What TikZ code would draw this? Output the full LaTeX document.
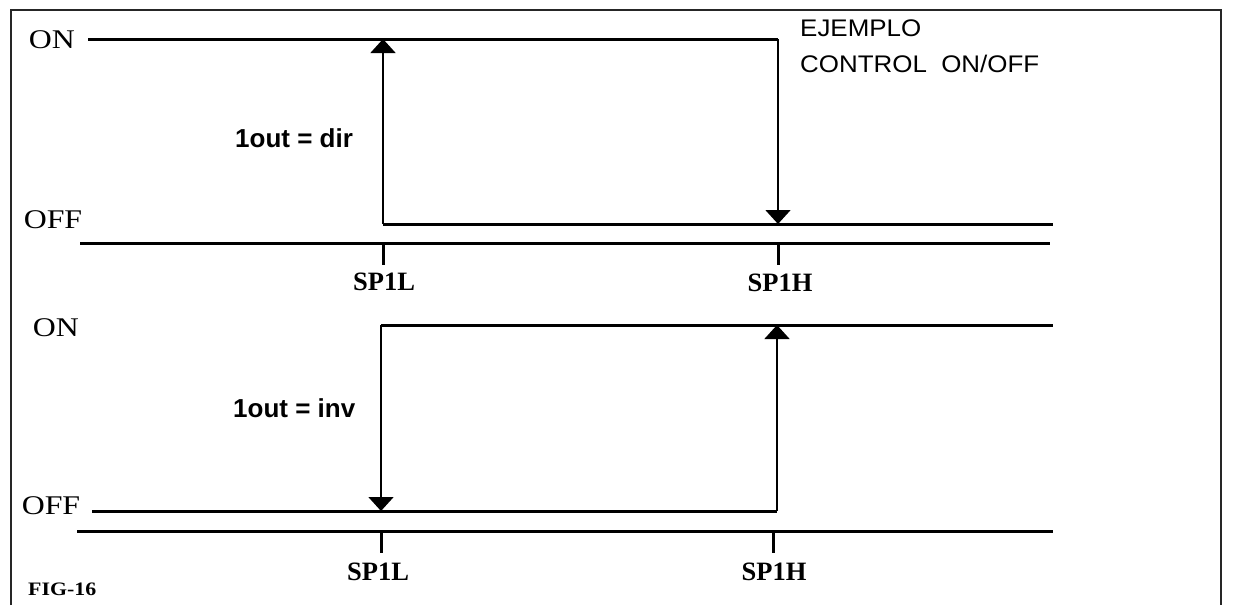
\documentclass[tikz,border=0pt]{standalone}
\usepackage{fontspec}
\setmainfont{Liberation Serif}
\newfontfamily\lvlfont{Liberation Serif}[FakeStretch=1.18]
\newfontfamily\spfont{Liberation Serif}[FakeStretch=1.0]
\newfontfamily\figfont{Liberation Serif}[FakeStretch=1.15]
\newfontfamily\sansfont{Liberation Sans}
\newfontfamily\titlefont{Liberation Sans}[FakeStretch=1.08]
\usetikzlibrary{arrows.meta}
\tikzset{
  level/.style={line width=3pt, line cap=butt},
  axisline/.style={line width=3pt},
  tickline/.style={line width=3pt},
  trans/.style={line width=1.7pt, -{Triangle[width=25pt,length=14pt]}},
  lvllabel/.style={font=\lvlfont\fontsize{27}{27}\selectfont, inner sep=0pt},
  splabel/.style={font=\spfont\bfseries\fontsize{26.5}{26.5}\selectfont, inner sep=0pt},
  modelabel/.style={font=\sansfont\bfseries\fontsize{26}{26}\selectfont, inner sep=0pt, anchor=west},
  titlelabel/.style={font=\titlefont\fontsize{24}{24}\selectfont, inner sep=0pt, anchor=west},
}
\begin{document}
\begin{tikzpicture}[x=1pt,y=-1pt]
\useasboundingbox (0,0) rectangle (1257,605);
\fill[white] (0,0) rectangle (1257,605);
% frame
\draw[line width=2pt, black!85] (11,605) -- (11,10) -- (1221,10) -- (1221,605);

% ===== top diagram =====
\node[lvllabel] (on1) at (52,40) {ON};
\node[lvllabel] (off1) at (53,220) {OFF};
\coordinate (on1s) at (88,39);
\coordinate (on1e) at (778,39);
\coordinate (sw1h) at (778,224);
\coordinate (sw1l) at (383,224);
\coordinate (sw1lt) at (383,39);
\coordinate (off1e) at (1053,224);
\draw[level] (on1s) -- (on1e);
\draw[level] (sw1l) -- (off1e);
\draw[trans] (on1e) -- (sw1h);
\draw[trans] (sw1l) -- (sw1lt);
\coordinate (ax1s) at (80,243);
\coordinate (ax1e) at (1050,243);
\draw[axisline] (ax1s) -- (ax1e);
\coordinate (t1l) at (383,243);
\coordinate (t1h) at (778,243);
\draw[tickline] (t1l) -- ++(0,22);
\draw[tickline] (t1h) -- ++(0,22);
\node[splabel] (sp1l1) at (384,282) {SP1L};
\node[splabel] (sp1h1) at (780,283) {SP1H};
\node[modelabel] (dir) at (235,138) {1out = dir};
\node[titlelabel] (t1) at (800,28) {EJEMPLO};
\node[titlelabel] (t2) at (800,64) {CONTROL\ \ ON/OFF};

% ===== bottom diagram =====
\node[lvllabel] (on2) at (56,328) {ON};
\node[lvllabel] (off2) at (51,506) {OFF};
\coordinate (on2s) at (381,325);
\coordinate (on2e) at (1053,325);
\coordinate (sw2l) at (381,511);
\coordinate (off2s) at (92,511);
\coordinate (off2e) at (777,511);
\coordinate (sw2ht) at (777,325);
\draw[level] (on2s) -- (on2e);
\draw[level] (off2s) -- (off2e);
\draw[trans] (on2s) -- (sw2l);
\draw[trans] (off2e) -- (sw2ht);
\coordinate (ax2s) at (77,531);
\coordinate (ax2e) at (1053,531);
\draw[axisline] (ax2s) -- (ax2e);
\coordinate (t2l) at (381,531);
\coordinate (t2h) at (773,531);
\draw[tickline] (t2l) -- ++(0,22);
\draw[tickline] (t2h) -- ++(0,22);
\node[splabel] (sp1l2) at (378,572) {SP1L};
\node[splabel] (sp1h2) at (774,572) {SP1H};
\node[modelabel] (inv) at (233,408) {1out = inv};

\node[font=\figfont\bfseries\fontsize{19}{19}\selectfont, inner sep=0pt, anchor=west] (fig) at (28,589) {FIG-16};
\end{tikzpicture}
\end{document}
